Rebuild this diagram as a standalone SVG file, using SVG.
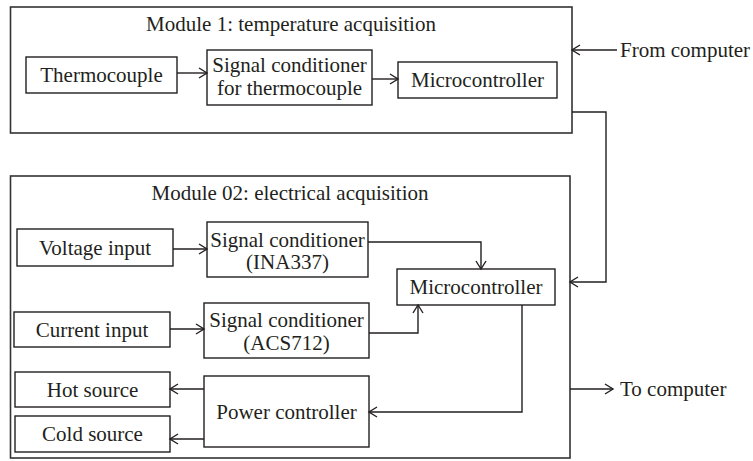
<svg xmlns="http://www.w3.org/2000/svg" width="753" height="461" viewBox="0 0 753 461">
<style>
.box{fill:#fff;stroke:#231f20;stroke-width:1.4}
.mod{fill:#fff;stroke:#333;stroke-width:1.6}
.t{font-family:"Liberation Serif","Times New Roman",serif;font-size:21px;fill:#231f20;text-anchor:middle}
.ts{font-family:"Liberation Serif","Times New Roman",serif;font-size:21px;fill:#231f20;text-anchor:start}
.c{fill:none;stroke:#231f20;stroke-width:1.4}
</style>
<defs>
<marker id="ah" markerUnits="userSpaceOnUse" markerWidth="12" markerHeight="12" viewBox="0 0 12 12" refX="10" refY="6" orient="auto">
<path d="M2,1 L10,6 L2,11" fill="none" stroke="#231f20" stroke-width="1.4"/>
</marker>
</defs>
<g id="module1">
<rect class="mod" x="10.5" y="7" width="561.5" height="126"/>
<text class="t" x="291" y="31">Module 1: temperature acquisition</text>
</g>
<g id="module2">
<rect class="mod" x="10.5" y="176" width="559.5" height="282"/>
<text class="t" x="290" y="200">Module 02: electrical acquisition</text>
</g>
<g id="thermocouple">
<rect class="box" x="26" y="57" width="151" height="36"/>
<text class="t" x="101.5" y="82">Thermocouple</text>
</g>
<g id="sc_thermo">
<rect class="box" x="207" y="50" width="165" height="55"/>
<text class="t" x="289.5" y="72">Signal conditioner</text>
<text class="t" x="289.5" y="95">for thermocouple</text>
</g>
<g id="micro1">
<rect class="box" x="398" y="62" width="159" height="36"/>
<text class="t" x="477.5" y="87">Microcontroller</text>
</g>
<g id="voltage">
<rect class="box" x="17" y="229" width="156" height="37"/>
<text class="t" x="95" y="255">Voltage input</text>
</g>
<g id="sc_ina">
<rect class="box" x="207" y="222" width="161" height="55"/>
<text class="t" x="287.5" y="247">Signal conditioner</text>
<text class="t" x="287.5" y="269">(INA337)</text>
</g>
<g id="micro2">
<rect class="box" x="397" y="269" width="158" height="36"/>
<text class="t" x="476" y="294">Microcontroller</text>
</g>
<g id="current">
<rect class="box" x="14" y="312" width="156" height="35"/>
<text class="t" x="92" y="337">Current input</text>
</g>
<g id="sc_acs">
<rect class="box" x="204" y="303" width="165" height="55"/>
<text class="t" x="286.5" y="327">Signal conditioner</text>
<text class="t" x="286.5" y="350">(ACS712)</text>
</g>
<g id="hot">
<rect class="box" x="15" y="372" width="155" height="35"/>
<text class="t" x="92.5" y="397">Hot source</text>
</g>
<g id="cold">
<rect class="box" x="15" y="416" width="155" height="36"/>
<text class="t" x="92.5" y="441">Cold source</text>
</g>
<g id="power">
<rect class="box" x="204" y="376" width="165" height="71"/>
<text class="t" x="286.5" y="419">Power controller</text>
</g>
<g id="labels">
<text class="ts" x="620" y="57">From computer</text>
<text class="ts" x="620" y="396">To computer</text>
</g>
<g id="connectors">
<path class="c" d="M177,73 H207" marker-end="url(#ah)"/>
<path class="c" d="M372,79 H398" marker-end="url(#ah)"/>
<path class="c" d="M617,50 H572" marker-end="url(#ah)"/>
<path class="c" d="M572,112 H606 V282 H570" marker-end="url(#ah)"/>
<path class="c" d="M173,249 H207" marker-end="url(#ah)"/>
<path class="c" d="M368,242 H481 V269" marker-end="url(#ah)"/>
<path class="c" d="M170,329 H204" marker-end="url(#ah)"/>
<path class="c" d="M369,333 H418 V305" marker-end="url(#ah)"/>
<path class="c" d="M522,305 V412 H369" marker-end="url(#ah)"/>
<path class="c" d="M204,389 H170" marker-end="url(#ah)"/>
<path class="c" d="M204,439 H170" marker-end="url(#ah)"/>
<path class="c" d="M570,389 H613" marker-end="url(#ah)"/>
</g>
</svg>
